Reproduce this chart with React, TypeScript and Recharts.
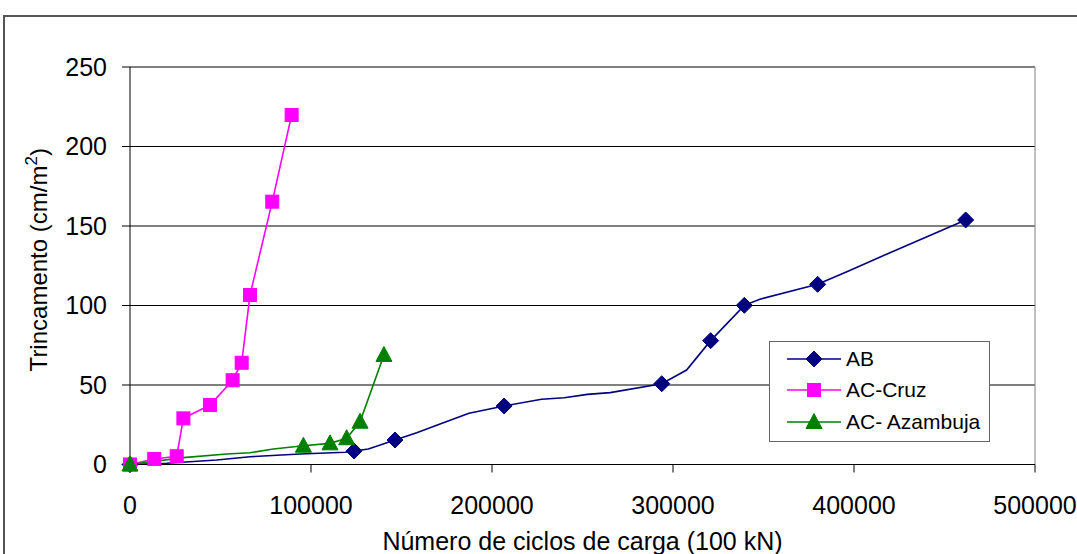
import React from "react";
import {
  CartesianGrid,
  Label,
  Legend,
  Line,
  LineChart,
  ReferenceLine,
  XAxis,
  YAxis,
} from "recharts";

const FONT = '"Liberation Sans", Arial, sans-serif';

const cycleTicks = [0, 100000, 200000, 300000, 400000, 500000];
const crackTicks = [0, 50, 100, 150, 200, 250];

// AB – diamonds on some of the points only
const abCycles = [
  0, 20300, 47900, 66300, 93900, 118800, 123800, 131700, 146400, 158400, 171300,
  187300, 206700, 227400, 239900, 252700, 265300, 293800, 307500, 320800, 339400,
  348000, 379900, 397000, 417000, 461700,
];
const abCracking = [
  0, 0.8, 2.8, 4.9, 6.6, 7.7, 8.5, 9.7, 15.4, 20, 25.5, 32.2, 36.8, 41, 42, 44.1,
  45.2, 50.8, 59.4, 77.9, 100.1, 104, 113.3, 121.7, 131.8, 153.8,
];
const abMarked = [0, 6, 8, 12, 17, 19, 20, 22, 25];

// AC-Cruz
const cruzCycles = [0, 13400, 25800, 29500, 44200, 56700, 61700, 66300, 78600, 89300];
const cruzCracking = [0, 3.5, 5.2, 29, 37.4, 53, 64, 106.6, 165.3, 219.8];
const cruzMarked = [0, 1, 2, 3, 4, 5, 6, 7, 8, 9];

// AC- Azambuja
const azCycles = [0, 29500, 53400, 66300, 79200, 95800, 110500, 119700, 127100, 140300];
const azCracking = [0, 4.3, 6.6, 7.4, 9.7, 11.8, 13.3, 16.5, 26.9, 68.9];
const azMarked = [0, 5, 6, 7, 8, 9];

const seriesNames = ["AB", "AC-Cruz", "AC- Azambuja"];
const seriesColors = ["#000080", "#FF00FF", "#008000"];

type Pt = { x: number; y: number; marked: boolean };

function toPoints(xs: number[], ys: number[], marked: number[]): Pt[] {
  return xs.map((x, i) => ({ x, y: ys[i], marked: marked.includes(i) }));
}

const abData = toPoints(abCycles, abCracking, abMarked);
const cruzData = toPoints(cruzCycles, cruzCracking, cruzMarked);
const azData = toPoints(azCycles, azCracking, azMarked);

function Marker({ kind, cx, cy, color }: { kind: number; cx: number; cy: number; color: string }) {
  if (kind === 0) {
    const r = 8;
    return (
      <polygon
        points={`${cx},${cy - r} ${cx + r},${cy} ${cx},${cy + r} ${cx - r},${cy}`}
        fill={color}
        stroke={color}
      />
    );
  }
  if (kind === 1) {
    return <rect x={cx - 6.5} y={cy - 6.5} width={13} height={13} fill={color} stroke={color} />;
  }
  return (
    <polygon
      points={`${cx},${cy - 8.5} ${cx + 8},${cy + 6.5} ${cx - 8},${cy + 6.5}`}
      fill={color}
      stroke={color}
    />
  );
}

function makeDot(kind: number) {
  return (props: any) => {
    const { cx, cy, payload, index } = props;
    if (!payload?.marked || cx == null || cy == null) {
      return <g key={`d-${kind}-${index}`} />;
    }
    return (
      <g key={`d-${kind}-${index}`}>
        <Marker kind={kind} cx={cx} cy={cy} color={seriesColors[kind]} />
      </g>
    );
  };
}

function ChartLegend() {
  return (
    <div
      style={{
        boxSizing: "border-box",
        width: 221,
        height: 101,
        border: "1px solid #666",
        background: "#fff",
        paddingTop: 1,
        fontFamily: FONT,
        fontSize: 21,
        color: "#000",
      }}
    >
      {seriesNames.map((name, i) => (
        <div key={name} style={{ height: 31.5, display: "flex", alignItems: "center" }}>
          <svg width={54} height={20} style={{ marginLeft: 17, flex: "none" }}>
            <line x1={0} x2={54} y1={10} y2={10} stroke={seriesColors[i]} strokeWidth={1.5} />
            <Marker kind={i} cx={27} cy={10} color={seriesColors[i]} />
          </svg>
          <span style={{ marginLeft: 5, whiteSpace: "nowrap" }}>{name}</span>
        </div>
      ))}
    </div>
  );
}

export default function App() {
  return (
    <div
      style={{
        position: "fixed",
        left: 0,
        top: 0,
        width: 1077,
        height: 554,
        overflow: "hidden",
        background: "#fff",
      }}
    >
      <div
        style={{
          position: "absolute",
          left: 3,
          top: 15,
          width: 1200,
          height: 700,
          border: "2px solid #555",
        }}
      />
      <div style={{ position: "absolute", left: 0, top: 0 }}>
        <LineChart
          width={1077}
          height={554}
          margin={{ top: 67, right: 42, bottom: 9.5, left: 0 }}
        >
          <CartesianGrid vertical={false} stroke="#000" />
          <XAxis
            type="number"
            dataKey="x"
            domain={[0, 500000]}
            ticks={cycleTicks}
            interval={0}
            height={80}
            tickSize={8}
            tickMargin={24}
            stroke="#000"
            tick={{ fill: "#000", fontSize: 25, fontFamily: FONT }}
          >
            <Label
              content={({ viewBox }: any) => (
                <text
                  x={viewBox.x + viewBox.width / 2}
                  y={viewBox.y + 85.5}
                  textAnchor="middle"
                  fontSize={25}
                  fontFamily={FONT}
                  fill="#000"
                >
                  Número de ciclos de carga (100 kN)
                </text>
              )}
            />
          </XAxis>
          <YAxis
            type="number"
            domain={[0, 250]}
            ticks={crackTicks}
            interval={0}
            width={130}
            tickSize={8}
            tickMargin={15}
            stroke="#000"
            tick={{ fill: "#000", fontSize: 25, fontFamily: FONT }}
          >
            <Label
              content={({ viewBox }: any) => {
                const cx = 47;
                const cy = viewBox.y + viewBox.height / 2 - 6;
                return (
                  <text
                    x={cx}
                    y={cy}
                    transform={`rotate(-90, ${cx}, ${cy})`}
                    textAnchor="middle"
                    fontSize={24}
                    fontFamily={FONT}
                    fill="#000"
                  >
                    Trincamento (cm/m
                    <tspan dy={-10} fontSize={17}>
                      2
                    </tspan>
                    <tspan dy={10}>)</tspan>
                  </text>
                );
              }}
            />
          </YAxis>
          <ReferenceLine x={500000} stroke="#808080" />
          <Legend
            layout="horizontal"
            verticalAlign="middle"
            content={() => <ChartLegend />}
            wrapperStyle={{ left: 769, top: 341, width: 221, height: 101 }}
          />
          <Line
            data={abData}
            dataKey="y"
            type="linear"
            stroke={seriesColors[0]}
            strokeWidth={1.6}
            dot={makeDot(0)}
            activeDot={false}
            isAnimationActive={false}
          />
          <Line
            data={cruzData}
            dataKey="y"
            type="linear"
            stroke={seriesColors[1]}
            strokeWidth={1.6}
            dot={makeDot(1)}
            activeDot={false}
            isAnimationActive={false}
          />
          <Line
            data={azData}
            dataKey="y"
            type="linear"
            stroke={seriesColors[2]}
            strokeWidth={1.6}
            dot={makeDot(2)}
            activeDot={false}
            isAnimationActive={false}
          />
        </LineChart>
      </div>
    </div>
  );
}
